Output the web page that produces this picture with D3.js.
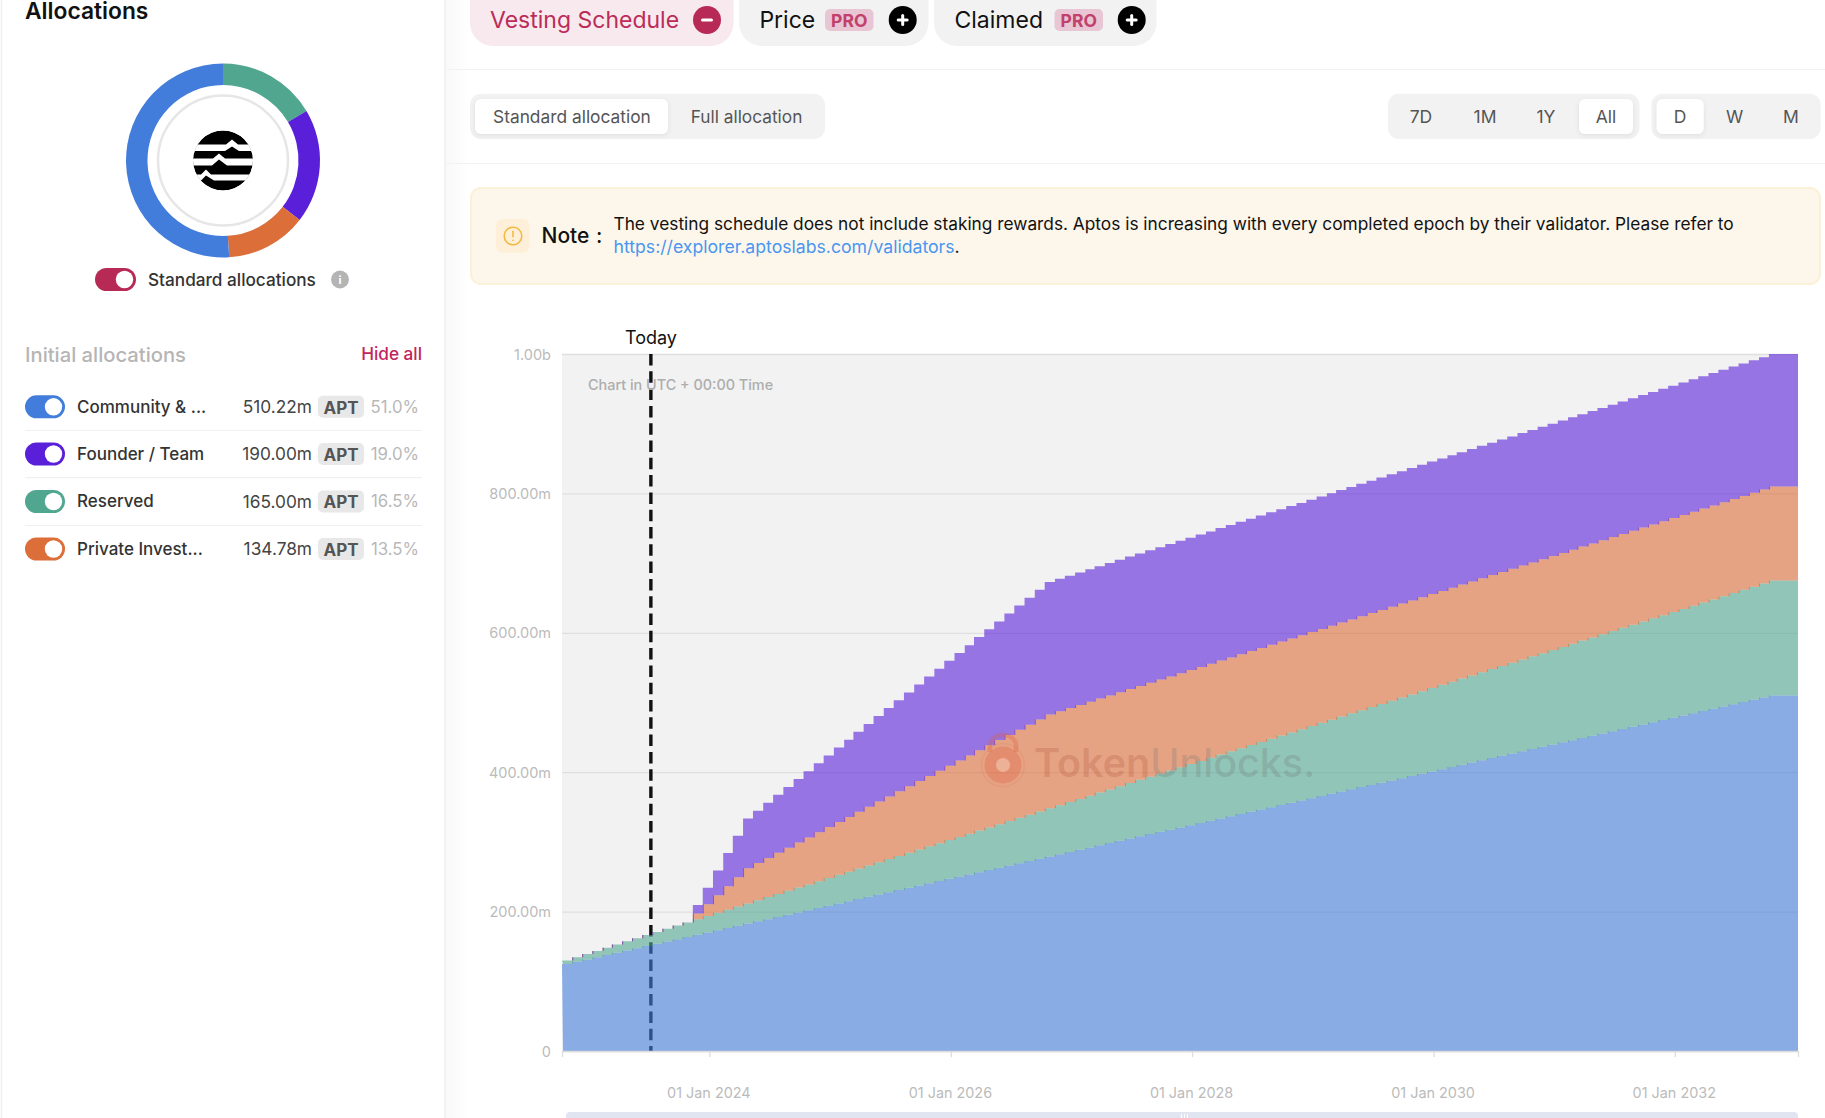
<!DOCTYPE html>
<html><head><meta charset="utf-8">
<script src="https://cdn.jsdelivr.net/npm/d3@7/dist/d3.min.js"></script>
<style>html,body{margin:0;padding:0;background:#fff;overflow:hidden}svg{display:block}text{font-family:Inter,"Noto Sans",sans-serif}</style>
</head><body><svg id="c" width="1825" height="1118" viewBox="0 0 1825 1118"></svg>
<script>
// ---- values, in millions, one per monthly unlock from 12 Oct 2022 ----
const community = [125.0,128.2,131.4,134.6,137.8,141.1,144.3,147.5,150.7,153.9,157.1,160.3,163.5,166.7,169.9,173.2,176.4,179.6,182.8,186.0,189.2,192.4,195.6,198.8,202.0,205.3,208.5,211.7,214.9,218.1,221.3,224.5,227.7,230.9,234.1,237.4,240.6,243.8,247.0,250.2,253.4,256.6,259.8,263.0,266.2,269.5,272.7,275.9,279.1,282.3,285.5,288.7,291.9,295.1,298.3,301.6,304.8,308.0,311.2,314.4,317.6,320.8,324.0,327.2,330.4,333.7,336.9,340.1,343.3,346.5,349.7,352.9,356.1,359.3,362.5,365.8,369.0,372.2,375.4,378.6,381.8,385.0,388.2,391.4,394.6,397.9,401.1,404.3,407.5,410.7,413.9,417.1,420.3,423.5,426.7,430.0,433.2,436.4,439.6,442.8,446.0,449.2,452.4,455.6,458.8,462.1,465.3,468.5,471.7,474.9,478.1,481.3,484.5,487.7,490.9,494.2,497.4,500.6,503.8,507.0,510.2,510.2];
const reserved = [5.0,6.3,7.7,9.0,10.3,11.7,13.0,14.3,15.7,17.0,18.3,19.7,21.0,22.3,23.7,25.0,26.3,27.7,29.0,30.3,31.7,33.0,34.3,35.7,37.0,38.3,39.7,41.0,42.3,43.7,45.0,46.3,47.7,49.0,50.3,51.7,53.0,54.3,55.7,57.0,58.3,59.7,61.0,62.3,63.7,65.0,66.3,67.7,69.0,70.3,71.7,73.0,74.3,75.7,77.0,78.3,79.7,81.0,82.3,83.7,85.0,86.3,87.7,89.0,90.3,91.7,93.0,94.3,95.7,97.0,98.3,99.7,101.0,102.3,103.7,105.0,106.3,107.7,109.0,110.3,111.7,113.0,114.3,115.7,117.0,118.3,119.7,121.0,122.3,123.7,125.0,126.3,127.7,129.0,130.3,131.7,133.0,134.3,135.7,137.0,138.3,139.7,141.0,142.3,143.7,145.0,146.3,147.7,149.0,150.3,151.7,153.0,154.3,155.7,157.0,158.3,159.7,161.0,162.3,163.7,165.0,165.0];
const investors = [0,0,0,0,0,0,0,0,0,0,0,0,0,8.4,16.8,25.3,33.7,42.1,50.5,53.3,56.1,59.0,61.8,64.6,67.4,70.2,73.0,75.8,78.6,81.4,84.2,87.1,89.9,92.7,95.5,98.3,101.1,103.9,106.7,109.5,112.3,115.2,118.0,120.8,123.6,126.4,129.2,132.0,134.8,134.8,134.8,134.8,134.8,134.8,134.8,134.8,134.8,134.8,134.8,134.8,134.8,134.8,134.8,134.8,134.8,134.8,134.8,134.8,134.8,134.8,134.8,134.8,134.8,134.8,134.8,134.8,134.8,134.8,134.8,134.8,134.8,134.8,134.8,134.8,134.8,134.8,134.8,134.8,134.8,134.8,134.8,134.8,134.8,134.8,134.8,134.8,134.8,134.8,134.8,134.8,134.8,134.8,134.8,134.8,134.8,134.8,134.8,134.8,134.8,134.8,134.8,134.8,134.8,134.8,134.8,134.8,134.8,134.8,134.8,134.8,134.8,134.8];
const team = [0,0,0,0,0,0,0,0,0,0,0,0,0,11.9,23.8,35.6,47.5,59.4,71.3,75.2,79.2,83.1,87.1,91.0,95.0,99.0,102.9,106.9,110.8,114.8,118.8,122.7,126.7,130.6,134.6,138.5,142.5,146.5,150.4,154.4,158.3,162.3,166.3,170.2,174.2,178.1,182.1,186.0,190.0,190,190,190,190,190,190,190,190,190,190,190,190,190,190,190,190,190,190,190,190,190,190,190,190,190,190,190,190,190,190,190,190,190,190,190,190,190,190,190,190,190,190,190,190,190,190,190,190,190,190,190,190,190,190,190,190,190,190,190,190,190,190,190,190,190,190,190,190,190,190,190,190,190];
const firstUnlock = "2022-10-12", chartEnd = "2033-01-08", today = "2023-07-08";
const seriesKeys = ["community","reserved","investors","team"];
const seriesColors = ["#437ddb","#50a68f","#dc6e3a","#5a1fd8"];
const yTickValues = [0,200,400,600,800,1000];
const yTickLabels = ["0","200.00m","400.00m","600.00m","800.00m","1.00b"];
const xTickDates = ["2024-01-01","2026-01-01","2028-01-01","2030-01-01","2032-01-01"];
const xTickLabels = ["01 Jan 2024","01 Jan 2026","01 Jan 2028","01 Jan 2030","01 Jan 2032"];
const allocNames = ["Community & ...","Founder / Team","Reserved","Private Invest..."];
const allocAmounts = ["510.22m","190.00m","165.00m","134.78m"];
const allocShares = ["51.0%","19.0%","16.5%","13.5%"];
const allocColors = ["#437ddb","#5a1fd8","#50a68f","#dc6e3a"];
const donutNames = ["Reserved","Founder / Team","Private Invest...","Community & ..."];
const donutValues = [165.00,190.00,134.78,510.22];
const donutColors = ["#50a68f","#5a1fd8","#dc6e3a","#437ddb"];

const svg = d3.select("#c");
const parse = d3.utcParse("%Y-%m-%d");
function rect(x,y,w,h,r,fill,extra){const s=svg.append("rect").attr("x",x).attr("y",y).attr("width",w).attr("height",h).attr("rx",r||0).attr("fill",fill);if(extra)extra(s);return s;}
function text(x,y,t,size,fill,weight,anchor){return svg.append("text").attr("x",x).attr("y",y).attr("dy","0.35em").attr("font-size",size).attr("fill",fill).attr("font-weight",weight||400).attr("text-anchor",anchor||"start").text(t);}
function hline(x1,x2,y,c){svg.append("line").attr("x1",x1).attr("x2",x2).attr("y1",y).attr("y2",y).attr("stroke",c).attr("stroke-width",1.2);}
function toggle(x,cy,color,w){rect(x,cy-11.5,w,23,11.5,color);svg.append("circle").attr("cx",x+w-11.5).attr("cy",cy).attr("r",8.7).attr("fill","#fff");}

// ---- page chrome ----
const defs = svg.append("defs");
const grad = defs.append("linearGradient").attr("id","fade");
grad.append("stop").attr("offset",0).attr("stop-color","#f9f9f9");
grad.append("stop").attr("offset",1).attr("stop-color","#fff");
rect(446,0,24,1118,0,"url(#fade)");
svg.append("line").attr("x1",445).attr("x2",445).attr("y1",0).attr("y2",1118).attr("stroke","#eeeeee").attr("stroke-width",1.5);
svg.append("line").attr("x1",1.5).attr("x2",1.5).attr("y1",0).attr("y2",1118).attr("stroke","#f0f0f0").attr("stroke-width",1.5);
hline(446,1825,69.5,"#f2f2f2"); hline(446,1825,163.5,"#f2f2f2");

// ---- sidebar ----
text(25,11.5,"Allocations",22.8,"#111",600);
const arc = d3.arc().innerRadius(75.5).outerRadius(97);
const pie = d3.pie().sort(null).value(d=>d);
const donut = svg.append("g").attr("transform","translate(223,160.5)");
donut.selectAll("path").data(pie(donutValues)).join("path").attr("d",arc).attr("fill",(d,i)=>donutColors[i]);
donut.append("circle").attr("r",65).attr("fill","none").attr("stroke","#e6e6e6").attr("stroke-width",2.5);
const logo = donut.append("g");
logo.append("clipPath").attr("id","lg").append("circle").attr("r",30);
const lg = logo.append("g").attr("clip-path","url(#lg)");
lg.append("circle").attr("r",30).attr("fill","#000");
lg.append("path").attr("fill","#fff").attr("d",
 "M-32,-16 H3 L9,-21 L15,-16 H32 V-9.5 H16 L9,-14 L2,-9.5 H-32Z"+
 "M-32,-2 H-10 L-4,-7 L2,-2 H32 V5 H4 L-4,-1 L-11,5 H-32Z"+
 "M-32,14 H-22 L-17,9 L-12,14 H32 V20 H-9 L-17,15 L-22,20 H-32Z");
toggle(95,279.5,"#b72a56",41);
text(148,280,"Standard allocations",17.2,"#333",500);
svg.append("circle").attr("cx",340).attr("cy",279.5).attr("r",9).attr("fill","#b4b4b4");
text(340,280,"i",11,"#fff",700,"middle");
text(25,355,"Initial allocations",20.2,"#b5b5b5",500);
text(422,354,"Hide all",17.2,"#c2255c",500,"end");
const rowY=[406.8,454,501.5,549];
allocNames.forEach((n,i)=>{
  const y=rowY[i];
  toggle(25,y,allocColors[i],40);
  text(77,y,n,17,"#333",500);
  text(312,y,allocAmounts[i],17.3,"#444",400,"end");
  rect(318,y-11,46,22,5,"#e8e8e8");
  text(341,y+1,"APT",17,"#555",700,"middle");
  text(419,y,allocShares[i],16.8,"#b8b8b8",400,"end");
  if(i<3) hline(25,422,[430.5,477.6,525.5][i],"#f0f0f0");
});

// ---- top pills ----
function plus(cx,cy,bg,minus){svg.append("circle").attr("cx",cx).attr("cy",cy).attr("r",14).attr("fill",bg);
  rect(cx-6,cy-1.5,12,3,1.5,"#fff"); if(!minus) rect(cx-1.5,cy-6,3,12,1.5,"#fff");}
function pro(x){rect(x,9,48.5,22,5,"#e8c6d3");text(x+24.25,20.5,"PRO",17.5,"#c2406c",700,"middle");}
rect(470,-20,263.5,66,23,"#f8e9ee"); text(490,20,"Vesting Schedule",23,"#bb2c58",400); plus(707,20,"#b72a56",true);
rect(739,-20,189.5,66,23,"#f2f2f2"); text(759.4,20,"Price",23,"#111",400); pro(825); plus(902.7,20,"#000");
rect(934,-20,222.5,66,23,"#f2f2f2"); text(954.5,20,"Claimed",23,"#111",400); pro(1054.5); plus(1131.7,20,"#000");

// ---- segmented controls ----
const shadow = defs.append("filter").attr("id","sh").attr("x","-20%").attr("y","-30%").attr("width","140%").attr("height","170%");
shadow.append("feDropShadow").attr("dx",0).attr("dy",1.5).attr("stdDeviation",2.5).attr("flood-color","#000").attr("flood-opacity",0.08);
rect(470,93.7,355,45.3,11,"#f2f2f2");
rect(475,99,193,35,6,"#fff",s=>s.attr("filter","url(#sh)"));
text(493,116.5,"Standard allocation",17.35,"#555"); text(690.7,116.5,"Full allocation",17.3,"#555");
rect(1388,93.7,251.5,45.3,11,"#f2f2f2");
rect(1579,99,54,35,6,"#fff",s=>s.attr("filter","url(#sh)"));
rect(1651.5,93.7,169.2,45.3,11,"#f2f2f2");
rect(1656.7,99,47,35,6,"#fff",s=>s.attr("filter","url(#sh)"));
[["7D",1421],["1M",1485],["1Y",1546],["All",1606],["D",1680],["W",1734.6],["M",1791]].forEach(d=>text(d[1],116.5,d[0],17.5,"#555",400,"middle"));

// ---- note ----
rect(471,188,1349,96,10,"#fdf6ea",s=>s.attr("stroke","#fbf0d8").attr("stroke-width",2));
rect(496,219,33.5,33.7,7,"#fdefd8");
svg.append("circle").attr("cx",513).attr("cy",236).attr("r",8.8).attr("fill","none").attr("stroke","#f5b942").attr("stroke-width",1.6);
rect(512.2,230.5,1.6,7,0.8,"#f5b942"); rect(512.2,239.5,1.6,1.8,0.8,"#f5b942");
text(541.5,236,"Note",21,"#111",500); text(596,236,":",21,"#111",500);
text(613.5,223.7,"The vesting schedule does not include staking rewards. Aptos is increasing with every completed epoch by their validator. Please refer to",17.3,"#111",400);
const ln = text(613.5,247,"https://explorer.aptoslabs.com/validators",17.65,"#4a96f0",400);
ln.append("tspan").attr("fill","#111").text(".");

// ---- chart ----
const margin = {left:562,right:1798,top:354,bottom:1051};
const x = d3.scaleUtc().domain([parse(firstUnlock),parse(chartEnd)]).range([margin.left,margin.right]);
const y = d3.scaleLinear().domain([0,1000]).range([margin.bottom,margin.top]);
const dates = community.map((_,i)=> i<community.length-1 ? d3.utcMonth.offset(parse(firstUnlock),i) : parse(chartEnd));
const rows = dates.map((d,i)=>({date:d,community:community[i],reserved:reserved[i],investors:investors[i],team:team[i]}));
rect(margin.left,margin.top,margin.right-margin.left,margin.bottom-margin.top,0,"#f2f2f2");
defs.append("clipPath").attr("id","plot").append("rect").attr("x",margin.left).attr("y",margin.top).attr("width",margin.right-margin.left).attr("height",margin.bottom-margin.top);

const yAxis = svg.append("g").attr("transform",`translate(${margin.left},0)`)
  .call(d3.axisLeft(y).tickValues(yTickValues).tickFormat((d,i)=>yTickLabels[i]).tickSize(-(margin.right-margin.left)).tickPadding(11));
yAxis.select(".domain").remove();
yAxis.selectAll("line").attr("stroke","#dfdfdf").attr("stroke-width",1.3);
yAxis.selectAll("text").attr("font-size",14.5).attr("fill","#bbbbbb").attr("dy","0.35em").style("font-family","Inter");

// today marker sits beneath the translucent areas
const xToday = x(parse(today));
svg.append("line").attr("x1",xToday).attr("x2",xToday).attr("y1",margin.top).attr("y2",margin.bottom)
  .attr("stroke","#111").attr("stroke-width",3.4).attr("stroke-dasharray","11.5,5.8");

// each band's lower edge steps just after its neighbour's upper edge, giving the small dark risers of the original
const stacked = d3.stack().keys(seriesKeys)(rows);
const area = d3.area().curve(d3.curveStepAfter).x0(d=>x(d.data.date)+1).x1(d=>x(d.data.date)).y0(d=>y(d[0])).y1(d=>y(d[1]));
svg.append("g").attr("clip-path","url(#plot)").selectAll("path").data(stacked).join("path").attr("d",area)
  .attr("fill",(d,i)=>seriesColors[i]).attr("fill-opacity",0.6);

const xAxis = svg.append("g").attr("transform",`translate(0,${margin.bottom})`)
  .call(d3.axisBottom(x).tickValues(xTickDates.map(parse)).tickFormat((d,i)=>xTickLabels[i]).tickSize(6).tickPadding(31));
xAxis.select(".domain").attr("stroke","#dcdcdc").attr("stroke-width",1.3);
xAxis.selectAll("line").attr("stroke","#dcdcdc").attr("stroke-width",1.3);
xAxis.selectAll("text").attr("font-size",14.4).attr("fill","#bbbbbb").attr("dx",-1).style("font-family","Inter");

text(651,338,"Today",18,"#111",400,"middle");
text(588,385,"Chart in UTC + 00:00 Time",14.4,"#adadad",500);

// watermark
const wm = svg.append("g");
wm.append("circle").attr("cx",1003).attr("cy",765).attr("r",21.5).attr("fill","none").attr("stroke","rgba(220,90,60,.1)").attr("stroke-width",1.5);
wm.append("circle").attr("cx",1003).attr("cy",765).attr("r",18.5).attr("fill","rgba(222,90,60,.3)");
wm.append("circle").attr("cx",1003).attr("cy",765).attr("r",7).attr("fill","rgba(240,190,165,.75)");
wm.append("path").attr("d","M990,752 V745 a13,10 0 0 1 26,0 V752").attr("fill","none").attr("stroke","rgba(222,90,60,.3)").attr("stroke-width",4.5);
wm.append("text").attr("x",1034).attr("y",763).attr("dy","0.35em").attr("font-size",39.5).attr("font-weight",600)
  .attr("fill","rgba(170,70,45,.24)").text("Token")
  .append("tspan").attr("fill","rgba(105,105,105,.24)").attr("font-weight",500).text("Unlocks.");

// range slider
rect(566,1112,1232,12,4,"#e1e5f2");
[1181,1184,1187].forEach(p=>rect(p,1114,1,4,0,"#fff"));
</script></body></html>
